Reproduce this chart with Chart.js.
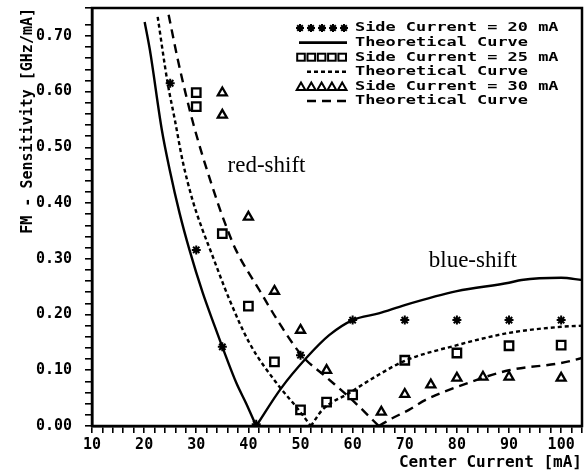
<!DOCTYPE html>
<html>
<head>
<meta charset="utf-8">
<script src="https://cdn.jsdelivr.net/npm/chart.js@4.4.1/dist/chart.umd.min.js"></script>
<style>
  html, body { margin: 0; padding: 0; background: #fff; }
  #wrap { width: 584px; height: 472px; position: relative; }
</style>
</head>
<body>
<div id="wrap"><canvas id="c" width="584" height="472"></canvas></div>
<script>
// ---- measured data: Side Current = 20 mA ----
const side20X = [25, 30, 35, 41.5, 50, 60, 70, 80, 90, 100];
const side20Y = [0.615, 0.316, 0.142, 0.003, 0.127, 0.19, 0.19, 0.19, 0.19, 0.19];
// ---- measured data: Side Current = 25 mA ----
const side25X = [30, 30, 35, 40, 45, 50, 55, 60, 70, 80, 90, 100];
const side25Y = [0.598, 0.573, 0.345, 0.215, 0.115, 0.029, 0.043, 0.056, 0.118, 0.131, 0.144, 0.145];
// ---- measured data: Side Current = 30 mA ----
const side30X = [35, 35, 40, 45, 50, 55, 65.5, 70, 75, 80, 85, 90, 100];
const side30Y = [0.598, 0.558, 0.375, 0.242, 0.172, 0.10, 0.025, 0.057, 0.074, 0.086, 0.088, 0.088, 0.086];

// ---- theoretical curves, red-shift and blue-shift branches ----
const theo20RedX = [20.1, 21.1, 23.4, 24.9, 26.8, 28.7, 31.2, 33.5, 35, 37.7, 39.6, 41.5];
const theo20RedY = [0.725, 0.675, 0.531, 0.46, 0.382, 0.316, 0.24, 0.18, 0.142, 0.077, 0.04, 0.0];
const theo20BlueX = [41.5, 46.3, 51.1, 55.5, 60, 65, 70, 80, 90, 92.4, 100, 104];
const theo20BlueY = [0.0, 0.068, 0.122, 0.163, 0.19, 0.202, 0.217, 0.242, 0.257, 0.262, 0.266, 0.262];

const theo25RedX = [22.6, 24.5, 25.9, 27.4, 29.3, 31.2, 32.6, 36.4, 40.2, 45.4, 49.2, 52];
const theo25RedY = [0.734, 0.616, 0.549, 0.475, 0.405, 0.352, 0.318, 0.226, 0.149, 0.077, 0.034, 0.0];
const theo25BlueX = [52, 54.2, 59.3, 65, 70, 80, 90, 100, 104];
const theo25BlueY = [0.0, 0.029, 0.059, 0.092, 0.117, 0.145, 0.167, 0.178, 0.18];

const theo30RedX = [24.7, 26.4, 28, 29.5, 31.2, 32.9, 34.5, 36, 37.6, 42.1, 45.9, 50.3, 54.9, 59.3, 62, 65];
const theo30RedY = [0.738, 0.66, 0.595, 0.54, 0.485, 0.435, 0.39, 0.352, 0.316, 0.244, 0.185, 0.126, 0.088, 0.052, 0.028, 0.0];
const theo30BlueX = [65, 67.6, 70.8, 74, 80, 90, 100, 104];
const theo30BlueY = [0.0, 0.014, 0.029, 0.047, 0.07, 0.10, 0.113, 0.122];

// ---- axis / text ----
const xTickLabels = [10, 20, 30, 40, 50, 60, 70, 80, 90, 100];
const yTickLabels = [0.0, 0.1, 0.2, 0.3, 0.4, 0.5, 0.6, 0.7];
const legendTexts = [
  'Side Current = 20 mA', 'Theoretical Curve',
  'Side Current = 25 mA', 'Theoretical Curve',
  'Side Current = 30 mA', 'Theoretical Curve'
];
const xTitle = 'Center Current [mA]';
const yTitle = 'FM - Sensitivity [GHz/mA]';
const regionLabels = ['red-shift', 'blue-shift'];

function pts(xs, ys) { return xs.map((x, i) => ({ x: x, y: ys[i] })); }

const MONO = '"DejaVu Sans Mono", monospace';

function markerSet(data, style, r, bw) {
  return {
    data: data, showLine: false, pointStyle: style, pointRadius: r, pointHoverRadius: r,
    borderColor: '#000', backgroundColor: 'rgba(0,0,0,0)', pointBorderWidth: bw
  };
}
function curveSet(data, dash) {
  return {
    data: data, showLine: true, pointRadius: 0, borderColor: '#000', borderWidth: 2.4,
    borderDash: dash, cubicInterpolationMode: 'monotone', fill: false
  };
}

function noPad(s) { s.paddingTop = 0; s.paddingBottom = 0; s.paddingLeft = 0; s.paddingRight = 0; }

const frameAndText = {
  id: 'frameAndText',
  afterDraw(chart) {
    const ctx = chart.ctx;
    const a = chart.chartArea;
    const xs = chart.scales.x, ys = chart.scales.y;
    ctx.save();
    // frame
    ctx.strokeStyle = '#000';
    ctx.lineWidth = 2.5;
    ctx.strokeRect(a.left, a.top, a.right - a.left, a.bottom - a.top);

    // region labels
    ctx.fillStyle = '#000';
    ctx.font = '23px "Liberation Serif", serif';
    ctx.textAlign = 'left';
    ctx.textBaseline = 'alphabetic';
    ctx.fillText(regionLabels[0], xs.getPixelForValue(36), ys.getPixelForValue(0.456));
    ctx.fillText(regionLabels[1], xs.getPixelForValue(74.6), ys.getPixelForValue(0.285));

    // legend
    const sx0 = a.right - 285, sx1 = a.right - 235, tx = a.right - 227;
    const rowY = i => a.top + 20 + i * 14.6;
    ctx.lineWidth = 2;
    ctx.strokeStyle = '#000';
    const n = 5, step = (sx1 - sx0 - 6) / (n - 1);
    for (let i = 0; i < 6; i++) {
      const y = rowY(i);
      ctx.setLineDash([]);
      if (i === 0) {
        for (let k = 0; k < n; k++) {
          const cx = sx0 + 3 + k * step, r = 4;
          ctx.beginPath();
          for (let j = 0; j < 4; j++) {
            const ang = j * Math.PI / 4;
            ctx.moveTo(cx - r * Math.cos(ang), y - r * Math.sin(ang));
            ctx.lineTo(cx + r * Math.cos(ang), y + r * Math.sin(ang));
          }
          ctx.stroke();
        }
      } else if (i === 2) {
        for (let k = 0; k < n; k++) {
          const cx = sx0 + 4 + k * 10.3;
          ctx.strokeRect(cx - 3.8, y - 3.5, 7.6, 7);
        }
      } else if (i === 4) {
        for (let k = 0; k < n; k++) {
          const cx = sx0 + 4 + k * 10.3;
          ctx.beginPath();
          ctx.moveTo(cx, y - 4);
          ctx.lineTo(cx + 4.3, y + 3.5);
          ctx.lineTo(cx - 4.3, y + 3.5);
          ctx.closePath();
          ctx.stroke();
        }
      } else {
        ctx.beginPath();
        ctx.lineWidth = 2.6;
        if (i === 1) { ctx.moveTo(sx0 + 2, y); }
        if (i === 3) { ctx.setLineDash([4, 3]); ctx.moveTo(sx0 + 10, y); }
        if (i === 5) { ctx.setLineDash([9, 6]); ctx.moveTo(sx0 + 10, y); }
        ctx.lineTo(sx1, y);
        ctx.stroke();
        ctx.lineWidth = 2;
      }
      ctx.setLineDash([]);
      ctx.save();
      ctx.translate(tx, y);
      ctx.scale(1.3, 1);
      ctx.font = 'bold 13px ' + MONO;
      ctx.textBaseline = 'middle';
      ctx.fillText(legendTexts[i], 0, 0);
      ctx.restore();
    }
    ctx.restore();
  }
};

new Chart(document.getElementById('c'), {
  type: 'scatter',
  data: {
    datasets: [
      markerSet(pts(side20X, side20Y), 'star', 4.5, 2),
      curveSet(pts(theo20RedX, theo20RedY), []),
      curveSet(pts(theo20BlueX, theo20BlueY), []),
      markerSet(pts(side25X, side25Y), 'rect', 6, 2.3),
      curveSet(pts(theo25RedX, theo25RedY), [4, 3]),
      curveSet(pts(theo25BlueX, theo25BlueY), [4, 3]),
      markerSet(pts(side30X, side30Y), 'triangle', 5.2, 2.3),
      curveSet(pts(theo30RedX, theo30RedY), [9, 6]),
      curveSet(pts(theo30BlueX, theo30BlueY), [9, 6])
    ]
  },
  options: {
    responsive: false,
    animation: false,
    events: [],
    layout: { autoPadding: false, padding: { left: 0, right: 2, top: 8, bottom: 0 } },
    plugins: { legend: { display: false }, tooltip: { enabled: false } },
    scales: {
      x: {
        type: 'linear', min: 10, max: 104,
        afterFit: s => { s.height = 46; noPad(s); },
        border: { display: true, color: '#000', width: 2.5 },
        grid: { drawOnChartArea: false, drawTicks: true, tickLength: 7, color: '#000', lineWidth: 1.6 },
        ticks: {
          stepSize: 2, autoSkip: false, maxRotation: 0, padding: 3, color: '#000',
          font: { family: MONO, size: 15, weight: 'bold' },
          callback: v => (xTickLabels.includes(Math.round(v)) && Math.abs(v - Math.round(v)) < 1e-6) ? String(Math.round(v)) : ''
        },
        title: {
          display: true, text: xTitle, align: 'end', color: '#000',
          font: { family: MONO, size: 16, weight: 'bold' }, padding: { top: 0, bottom: 0 }
        }
      },
      y: {
        type: 'linear', min: 0, max: 0.75,
        afterFit: s => { s.width = 92; noPad(s); },
        border: { display: true, color: '#000', width: 2.5 },
        grid: { drawOnChartArea: false, drawTicks: true, tickLength: 7, color: '#000', lineWidth: 1.6 },
        ticks: {
          stepSize: 0.02, autoSkip: false, padding: 13, color: '#000',
          font: { family: MONO, size: 15, weight: 'bold' },
          callback: v => {
            const t = Math.round(v * 100);
            if (t % 10 !== 0) return '';
            const val = t / 100;
            return yTickLabels.some(l => Math.abs(l - val) < 1e-6) ? val.toFixed(2) : '';
          }
        },
        title: {
          display: true, text: yTitle, align: 'end', color: '#000',
          font: { family: MONO, size: 15, weight: 'bold' }, padding: { top: 19, bottom: 0 }
        }
      }
    }
  },
  plugins: [frameAndText]
});
</script>
</body>
</html>
